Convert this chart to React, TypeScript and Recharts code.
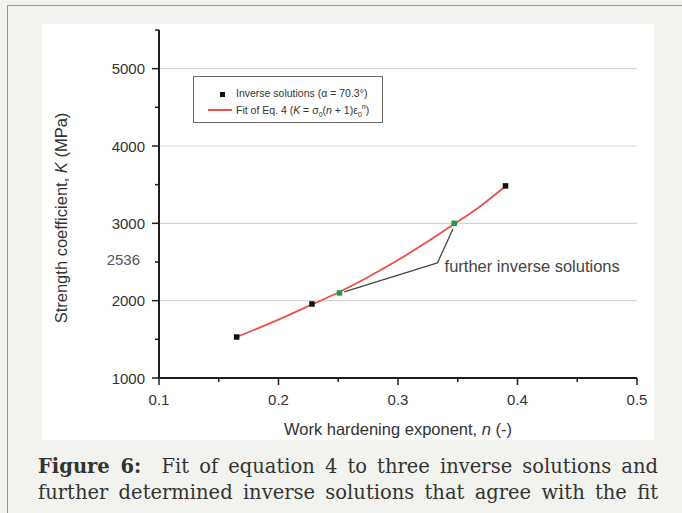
import React from 'react';
import {
  ComposedChart,
  Line,
  Scatter,
  XAxis,
  YAxis,
  ReferenceLine,
  ReferenceDot,
  Legend,
  Label,
} from 'recharts';

// ---- data ----
const fitN = [0.165, 0.2, 0.228, 0.25, 0.3, 0.347, 0.37, 0.39];
const fitK = [1530, 1755, 1950, 2105, 2525, 2990, 3235, 3480];

const inverseN = [0.165, 0.228, 0.39];
const inverseK = [1530, 1957, 3484];

const furtherN = [0.251, 0.347];
const furtherK = [2100, 3000];

const xTicks = [0.1, 0.15, 0.2, 0.25, 0.3, 0.35, 0.4, 0.45, 0.5];
const yTicks = [1000, 1500, 2000, 2500, 2536, 3000, 3500, 4000, 4500, 5000, 5500];
const gridValues = [2000, 3000, 4000, 5000];

// annotation: knee point and the two pointer ends
const annoKnee = { x: 0.333, y: 2488 };
const annoEnds = [
  { x: 0.255, y: 2113 },
  { x: 0.346, y: 2928 },
];
const annoText = { x: 0.339, y: 2449, text: 'further inverse solutions' };

const fitData = fitN.map((n, i) => ({ n, K: fitK[i] }));
const inverseData = inverseN.map((n, i) => ({ n, K: inverseK[i] }));
const furtherData = furtherN.map((n, i) => ({ n, K: furtherK[i] }));

const FONT = '"Liberation Sans", Arial, Helvetica, sans-serif';
const AXIS_COLOR = '#1e1e1e';

const isMajorX = (v: number) => Math.abs(v * 10 - Math.round(v * 10)) < 1e-6;

const XTick = (props: any) => {
  const { x, y, payload } = props;
  const v = payload.value as number;
  const major = isMajorX(v);
  return (
    <g>
      <line x1={x} y1={y} x2={x} y2={y + (major ? 7 : 4)} stroke={AXIS_COLOR} strokeWidth={1.5} />
      {major && (
        <text x={x} y={y + 27} textAnchor="middle" fontSize={15} fill="#333" fontFamily={FONT}>
          {v.toFixed(1)}
        </text>
      )}
    </g>
  );
};

const YTick = (props: any) => {
  const { x, y, payload } = props;
  const v = payload.value as number;
  if (v === 2536) {
    return (
      <text x={x - 19} y={y + 5.5} textAnchor="end" fontSize={15} fill="#555" fontFamily={FONT}>
        {v}
      </text>
    );
  }
  const major = v % 1000 === 0;
  return (
    <g>
      <line x1={x - (major ? 7 : 4)} y1={y} x2={x} y2={y} stroke={AXIS_COLOR} strokeWidth={1.5} />
      {major && (
        <text x={x - 14} y={y + 5.5} textAnchor="end" fontSize={15} fill="#333" fontFamily={FONT}>
          {v}
        </text>
      )}
    </g>
  );
};

const squareShape = (color: string, size: number) => (p: any) => (
  <rect x={p.cx - size / 2} y={p.cy - size / 2} width={size} height={size} fill={color} />
);

const LegendBox = () => (
  <div
    style={{
      width: 190,
      height: 47,
      border: '1.5px solid #666',
      background: '#fff',
      fontFamily: FONT,
      fontSize: 10.5,
      color: '#333',
      position: 'relative',
      boxSizing: 'border-box',
    }}
  >
    <div style={{ position: 'absolute', left: 26, top: 15, width: 5, height: 5, background: '#111' }} />
    <div style={{ position: 'absolute', left: 42, top: 10, whiteSpace: 'nowrap' }}>
      Inverse solutions (α = 70.3°)
    </div>
    <div style={{ position: 'absolute', left: 14, top: 32, width: 24, height: 1.6, background: '#e8514a' }} />
    <div style={{ position: 'absolute', left: 42, top: 26, whiteSpace: 'nowrap' }}>
      Fit of Eq. 4 (<i>K</i> = σ<sub style={{ fontSize: 7 }}>0</sub>(<i>n</i> + 1)ε
      <sub style={{ fontSize: 7 }}>0</sub>
      <sup style={{ fontSize: 7 }}>
        <i>n</i>
      </sup>
      )
    </div>
  </div>
);

export default function App() {
  return (
    <div
      style={{
        position: 'absolute',
        left: 0,
        top: 0,
        width: 682,
        height: 513,
        background: '#f2f2ee',
        overflow: 'hidden',
      }}
    >
      {/* thin blue frame */}
      <div
        style={{
          position: 'absolute',
          left: 7,
          top: 5,
          width: 680,
          height: 520,
          borderTop: '1.5px solid #6f9ddb',
          borderLeft: '1.5px solid #6f9ddb',
        }}
      />
      {/* white figure panel */}
      <div style={{ position: 'absolute', left: 42, top: 24, width: 612, height: 416, background: '#fff' }} />

      <div style={{ position: 'absolute', left: 0, top: 0 }}>
        <ComposedChart width={682} height={513} margin={{ top: 30, right: 45, bottom: 75, left: 59 }}>
          <XAxis
            type="number"
            dataKey="n"
            domain={[0.1, 0.5]}
            ticks={xTicks}
            allowDataOverflow
            height={60}
            tickSize={0}
            tickMargin={0}
            tickLine={false}
            tick={<XTick />}
            axisLine={{ stroke: AXIS_COLOR, strokeWidth: 2 }}
            interval={0}
          >
            <Label
              content={(p: any) => {
                const vb = p.viewBox;
                return (
                  <text
                    x={vb.x + vb.width / 2}
                    y={435}
                    textAnchor="middle"
                    fontSize={16.5}
                    fill="#333"
                    fontFamily={FONT}
                  >
                    Work hardening exponent, <tspan fontStyle="italic">n</tspan> (-)
                  </text>
                );
              }}
            />
          </XAxis>
          <YAxis
            type="number"
            dataKey="K"
            domain={[1000, 5500]}
            ticks={yTicks}
            allowDataOverflow
            width={100}
            tickSize={0}
            tickMargin={0}
            tickLine={false}
            tick={<YTick />}
            axisLine={{ stroke: AXIS_COLOR, strokeWidth: 2 }}
            interval={0}
          >
            <Label
              content={() => (
                <text
                  x={67}
                  y={218}
                  textAnchor="middle"
                  fontSize={16.5}
                  fill="#333"
                  fontFamily={FONT}
                  transform="rotate(-90, 67, 218)"
                >
                  Strength coefficient, <tspan fontStyle="italic">K</tspan> (MPa)
                </text>
              )}
            />
          </YAxis>

          {gridValues.map((g) => (
            <ReferenceLine key={g} y={g} stroke="#d6d6d6" strokeWidth={1.2} />
          ))}

          <Line
            data={fitData}
            dataKey="K"
            type="monotone"
            stroke="#e8514a"
            strokeWidth={1.8}
            dot={false}
            isAnimationActive={false}
            legendType="line"
          />

          {annoEnds.map((e, i) => (
            <ReferenceLine
              key={i}
              segment={[annoKnee, e]}
              stroke="#444"
              strokeWidth={1.3}
            />
          ))}

          <Scatter
            data={inverseData}
            dataKey="K"
            shape={squareShape('#111', 5.5)}
            isAnimationActive={false}
          />
          <Scatter
            data={furtherData}
            dataKey="K"
            shape={squareShape('#1a9e48', 5.5)}
            isAnimationActive={false}
          />

          <ReferenceDot
            x={annoText.x}
            y={annoText.y}
            r={0}
            fill="none"
            stroke="none"
            label={(p: any) => {
              const vb = p.viewBox;
              return (
                <text
                  x={vb.x}
                  y={vb.y + 6}
                  textAnchor="start"
                  fontSize={16.5}
                  fill="#444"
                  fontFamily={FONT}
                >
                  {annoText.text}
                </text>
              );
            }}
          />

          <Legend
            layout="vertical"
            align="center"
            verticalAlign="middle"
            content={() => <LegendBox />}
            wrapperStyle={{ position: 'absolute', left: 193, top: 76, width: 190, height: 47 }}
          />
        </ComposedChart>
      </div>

      {/* caption */}
      <div
        style={{
          position: 'absolute',
          left: 38,
          top: 454,
          width: 620,
          fontFamily: '"DejaVu Serif", serif',
          fontSize: 19.5,
          lineHeight: '26px',
          color: '#333',
        }}
      >
        <div style={{ textAlign: 'justify', textAlignLast: 'justify', whiteSpace: 'nowrap' }}>
          <b>Figure 6:</b>&nbsp; Fit of equation 4 to three inverse solutions and
        </div>
        <div style={{ textAlign: 'justify', textAlignLast: 'justify', whiteSpace: 'nowrap' }}>
          further determined inverse solutions that agree with the fit
        </div>
      </div>
    </div>
  );
}
